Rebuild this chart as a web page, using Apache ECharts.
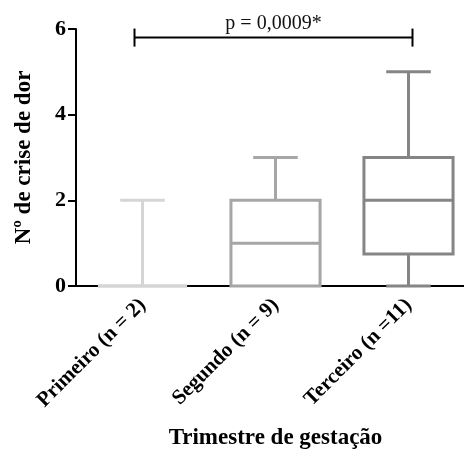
<!DOCTYPE html>
<html><head><meta charset="utf-8">
<script src="https://cdn.jsdelivr.net/npm/echarts@6/dist/echarts.min.js"></script>
<style>html,body{margin:0;padding:0;background:#fff}#c{width:464px;height:465px}</style>
</head><body><div id="c"></div>
<script>
const categories = ['Primeiro (n = 2)', 'Segundo (n = 9)', 'Terceiro (n =11)'];
const mins    = [0, 0, 0];
const q1s     = [0, 0, 0.75];
const medians = [0, 1, 2];
const q3s     = [0, 2, 3];
const maxs    = [2, 3, 5];
const boxColors = ['#d5d5d5', '#a6a6a6', '#858585'];
const yTicks = [0, 2, 4, 6];
const pText = 'p = 0,0009*';
const bracketY = 5.8;

const serif = '"Liberation Serif", "Times New Roman", serif';
const data = categories.map((c, i) => [i, mins[i], q1s[i], medians[i], q3s[i], maxs[i]]);

function renderBox(params, api) {
  const i = api.value(0);
  const band = api.size([1, 0])[0];
  const bw = band * 0.67, hw = bw / 2, cw = hw / 2;
  const cx = api.coord([i, 0])[0];
  const y = k => api.coord([i, api.value(k)])[1];
  const yMin = y(1), yQ1 = y(2), yMed = y(3), yQ3 = y(4), yMax = y(5);
  const st = { stroke: boxColors[i], lineWidth: 3, fill: null };
  const ch = [];
  const line = (x1, y1, x2, y2) => ch.push({ type: 'line', shape: { x1, y1, x2, y2 }, style: st });
  if (yQ1 - yQ3 > 0.5) {
    ch.push({ type: 'rect', shape: { x: cx - hw, y: yQ3, width: bw, height: yQ1 - yQ3 }, style: st });
  } else {
    line(cx - hw, yQ1, cx + hw, yQ1);
  }
  line(cx - hw, yMed, cx + hw, yMed);
  if (yMax < yQ3 - 0.5) { line(cx, yQ3, cx, yMax); line(cx - cw, yMax, cx + cw, yMax); }
  if (yMin > yQ1 + 0.5) { line(cx, yQ1, cx, yMin); line(cx - cw, yMin, cx + cw, yMin); }
  return { type: 'group', children: ch };
}

function renderBracket(params, api) {
  const p0 = api.coord([0, bracketY]);
  const p1 = api.coord([2, bracketY]);
  const x1 = p0[0] - 8, x2 = p1[0] + 4, yy = p0[1];
  const st = { stroke: '#000', lineWidth: 2 };
  return { type: 'group', children: [
    { type: 'line', shape: { x1, y1: yy, x2, y2: yy }, style: st },
    { type: 'line', shape: { x1, y1: yy - 9, x2: x1, y2: yy + 9 }, style: st },
    { type: 'line', shape: { x1: x2, y1: yy - 9, x2: x2, y2: yy + 9 }, style: st },
    { type: 'text', x: (x1 + x2) / 2, y: yy - 4, style: { text: pText, font: '20px ' + serif, fill: '#111', align: 'center', verticalAlign: 'bottom' } }
  ] };
}

const chart = echarts.init(document.getElementById('c'), null, { renderer: 'canvas' });
chart.setOption({
  animation: false,
  grid: { left: 76, right: -11, top: 29, bottom: 179, containLabel: false, outerBoundsMode: 'none' },
  xAxis: {
    type: 'category', data: categories, boundaryGap: true,
    name: 'Trimestre de gestação', nameLocation: 'middle', nameGap: 141,
    nameTextStyle: { fontFamily: serif, fontWeight: 'bold', fontSize: 23, color: '#000' },
    axisLine: { lineStyle: { color: '#000', width: 2 } },
    axisTick: { alignWithLabel: true, length: 6, lineStyle: { color: '#000', width: 2 } },
    axisLabel: { rotate: 45, margin: 16, fontFamily: serif, fontWeight: 'bold', fontSize: 21, color: '#000' },
    splitLine: { show: false }
  },
  yAxis: {
    type: 'value', min: 0, max: 6, interval: 2,
    name: 'Nº de crise de dor', nameLocation: 'middle', nameGap: 40, nameRotate: 90,
    nameTextStyle: { fontFamily: serif, fontWeight: 'bold', fontSize: 23, color: '#000' },
    axisLine: { show: true, lineStyle: { color: '#000', width: 2 } },
    axisTick: { show: true, length: 8, lineStyle: { color: '#000', width: 2 } },
    axisLabel: { margin: 10, fontFamily: serif, fontWeight: 'bold', fontSize: 22, color: '#000',
      formatter: v => yTicks.includes(v) ? String(v) : '' },
    splitLine: { show: false }
  },
  series: [
    { type: 'custom', data: data, renderItem: renderBox, clip: false, z: 3 },
    { type: 'custom', data: [[0]], renderItem: renderBracket, clip: false, z: 4 }
  ]
});
</script></body></html>
